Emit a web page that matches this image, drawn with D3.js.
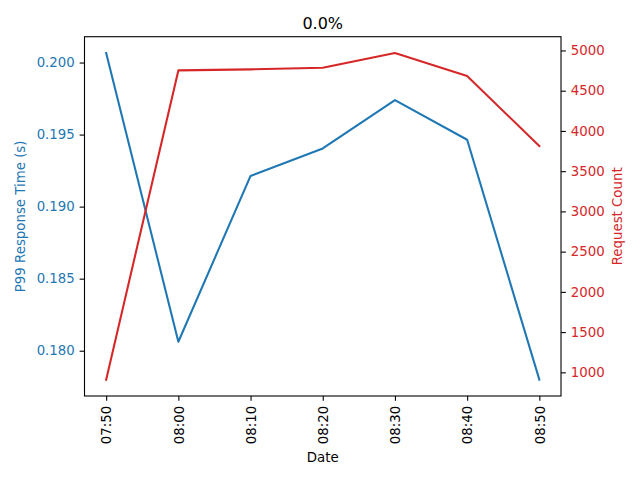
<!DOCTYPE html>
<html><head><meta charset="utf-8">
<script src="https://cdn.jsdelivr.net/npm/d3@7"></script>
<style>
html,body{margin:0;padding:0;background:#fff;}
svg{display:block;font-family:"DejaVu Sans",sans-serif;}
</style></head>
<body>
<svg id="chart" width="640" height="480"></svg>
<script>
const times = ["07:50","08:00","08:10","08:20","08:30","08:40","08:50"];
const p99Values = [0.20066, 0.18062, 0.19213, 0.19404, 0.19739, 0.19464, 0.17799];
const requestCounts = [909, 4752, 4765, 4785, 4968, 4682, 3812];
const leftTicks = [0.180, 0.185, 0.190, 0.195, 0.200];
const rightTicks = [1000,1500,2000,2500,3000,3500,4000,4500,5000];
const title = "0.0%";

const blue = "#1f77b4", red = "#d62728";
const L = 84.5, R = 561, T = 36.7, B = 396;
const svg = d3.select("#chart");
const parse = d3.timeParse("%H:%M");
const dates = times.map(parse);

function padded(ext){ const m=(ext[1]-ext[0])*0.05; return [ext[0]-m, ext[1]+m]; }
const xd = d3.extent(dates);
const xm = (xd[1]-xd[0])*0.05;
const x = d3.scaleTime().domain([new Date(+xd[0]-xm), new Date(+xd[1]+xm)]).range([L,R]);
const yL = d3.scaleLinear().domain(padded(d3.extent(p99Values))).range([B,T]);
const yR = d3.scaleLinear().domain(padded(d3.extent(requestCounts))).range([B,T]);

// lines
const lineL = d3.line().x((d,i)=>x(dates[i])).y(d=>yL(d));
const lineR = d3.line().x((d,i)=>x(dates[i])).y(d=>yR(d));
svg.append("path").attr("d", lineL(p99Values)).attr("fill","none").attr("stroke",blue).attr("stroke-width",2.08).attr("stroke-linejoin","round").attr("stroke-linecap","square");
svg.append("path").attr("d", lineR(requestCounts)).attr("fill","none").attr("stroke",red).attr("stroke-width",2.08).attr("stroke-linejoin","round").attr("stroke-linecap","square");

// axes
const tickLen = 4.86, pad = 4.86;
const fs = "13.33px";
const gx = svg.append("g").attr("transform",`translate(0,${B})`)
  .call(d3.axisBottom(x).tickValues(dates).tickFormat(d3.timeFormat("%H:%M")).tickSize(tickLen).tickPadding(pad));
gx.selectAll("text").attr("transform","rotate(-90)").attr("text-anchor","end").attr("dy","0.35em").attr("x",-(tickLen+pad)).attr("y",0).style("font-size",fs).attr("fill","#000");

const gl = svg.append("g").attr("transform",`translate(${L},0)`)
  .call(d3.axisLeft(yL).tickValues(leftTicks).tickFormat(d3.format(".3f")).tickSize(tickLen).tickPadding(pad));
gl.selectAll("text").style("font-size",fs).attr("fill",blue);

const gr = svg.append("g").attr("transform",`translate(${R},0)`)
  .call(d3.axisRight(yR).tickValues(rightTicks).tickFormat(d3.format("d")).tickSize(tickLen).tickPadding(pad));
gr.selectAll("text").style("font-size",fs).attr("fill",red);

[gx,gl,gr].forEach(g=>{ g.select(".domain").remove(); g.selectAll("line").attr("stroke","#000").attr("stroke-width",1.1); g.attr("font-family",null); });

// frame
svg.append("rect").attr("x",L).attr("y",T).attr("width",R-L).attr("height",B-T).attr("fill","none").attr("stroke","#000").attr("stroke-width",1.1);

// labels
svg.append("text").attr("x",(L+R)/2).attr("y",29).attr("text-anchor","middle").style("font-size","16px").text(title);
svg.append("text").attr("x",(L+R)/2).attr("y",462).attr("text-anchor","middle").style("font-size",fs).text("Date");
svg.append("text").attr("transform",`translate(25,${(T+B)/2}) rotate(-90)`).attr("text-anchor","middle").style("font-size",fs).attr("fill",blue).text("P99 Response Time (s)");
svg.append("text").attr("transform",`translate(622,${(T+B)/2}) rotate(-90)`).attr("text-anchor","middle").style("font-size",fs).attr("fill",red).text("Request Count");
</script>
</body></html>
